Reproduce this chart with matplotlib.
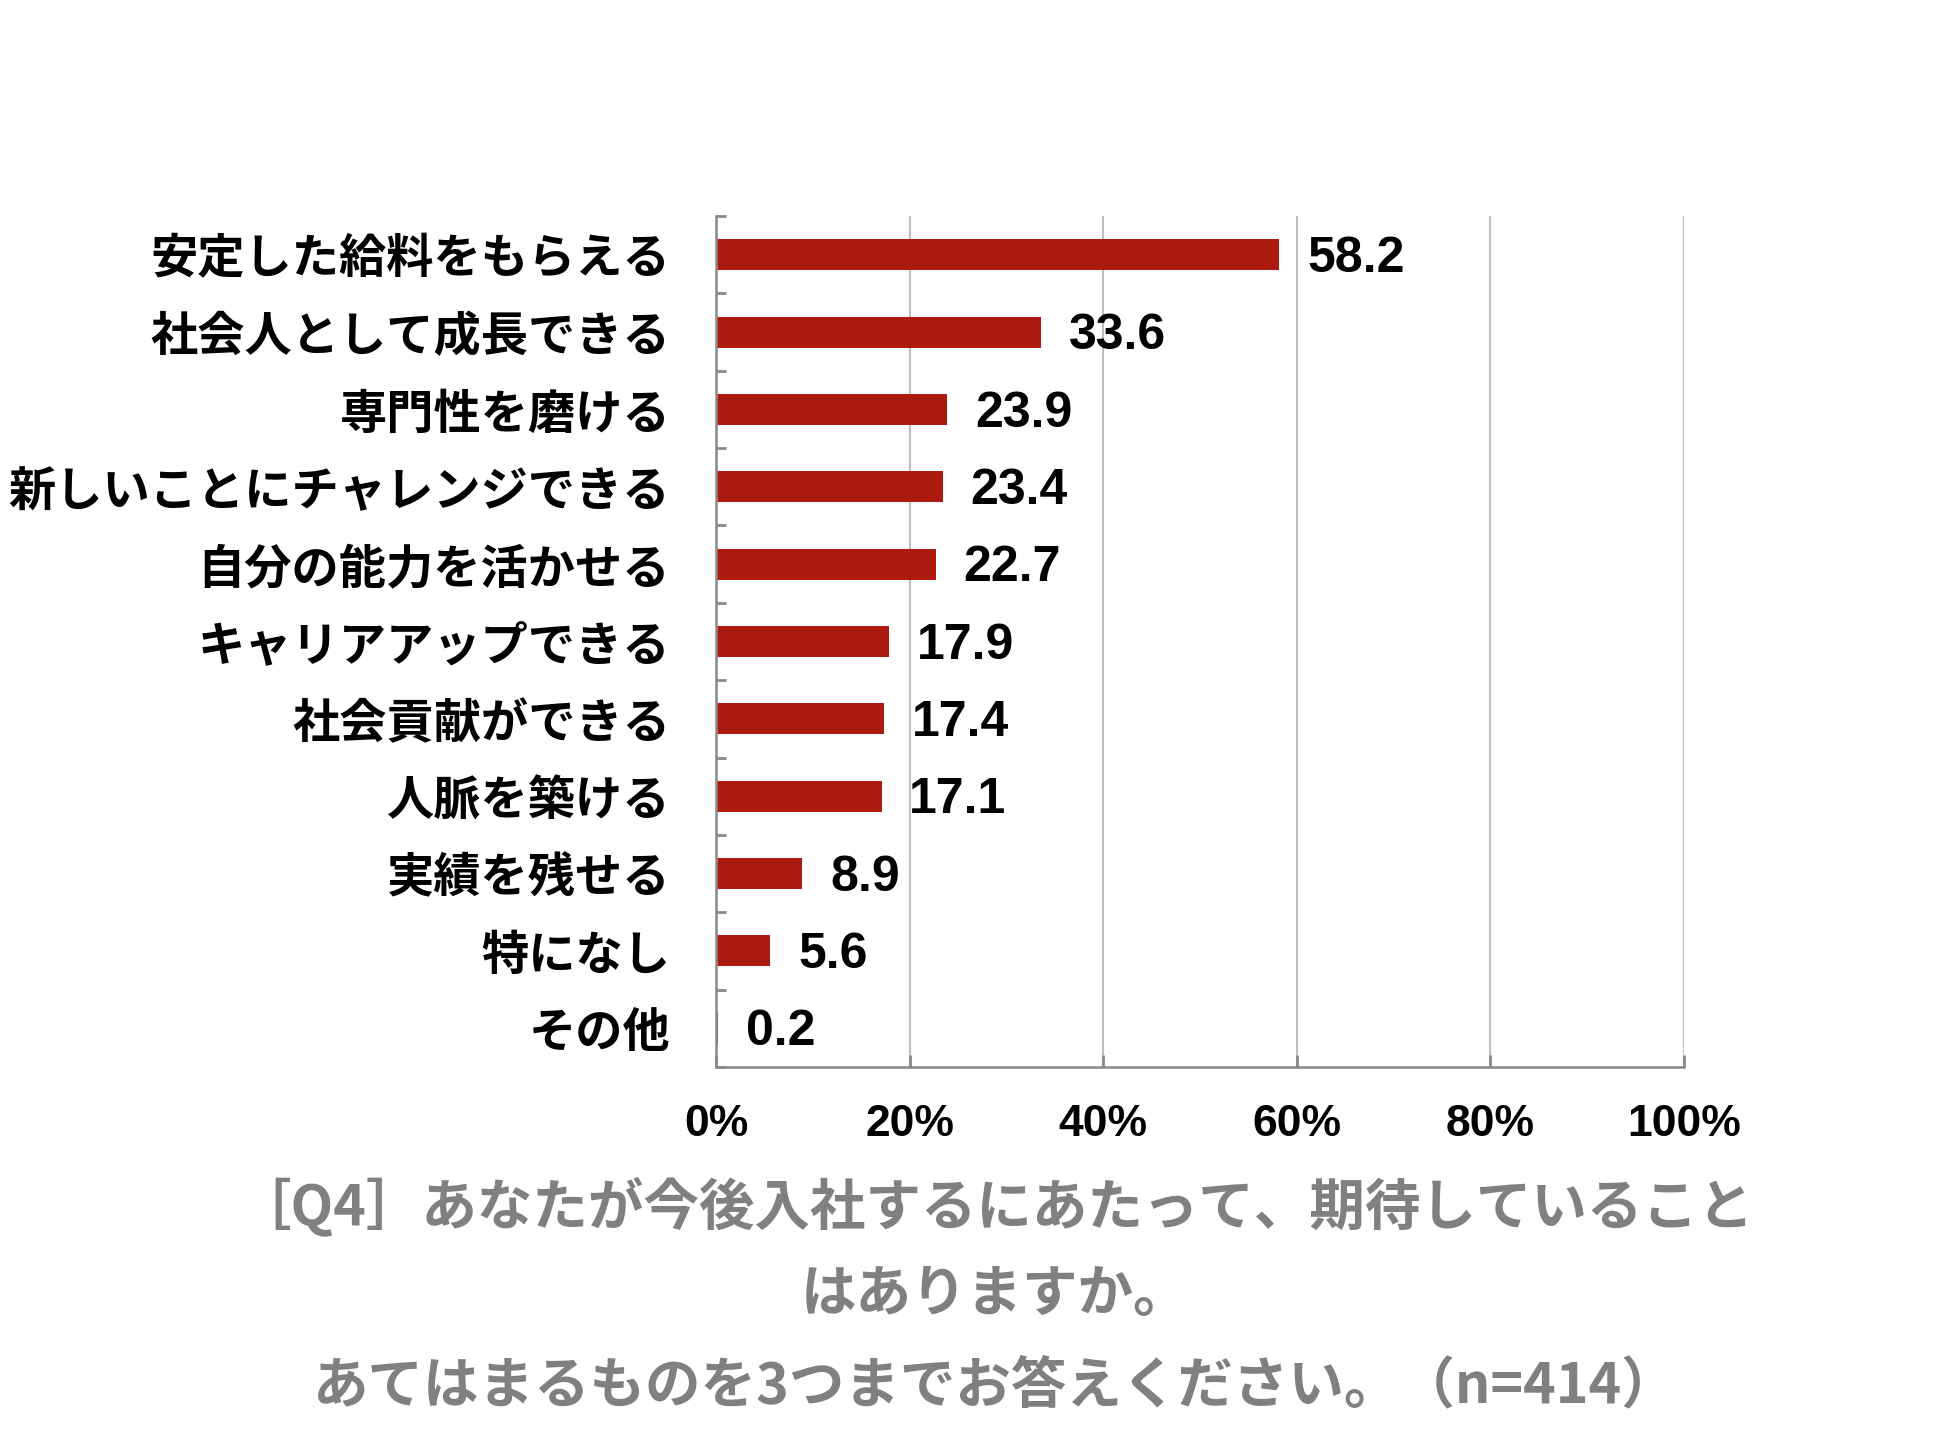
import matplotlib
matplotlib.use("Agg")
import matplotlib.pyplot as plt
from matplotlib.ticker import FixedLocator
import numpy as np

categories = ["安定した給料をもらえる", "社会人として成長できる", "専門性を磨ける",
              "新しいことにチャレンジできる", "自分の能力を活かせる", "キャリアアップできる",
              "社会貢献ができる", "人脈を築ける", "実績を残せる", "特になし", "その他"]
values = [58.2, 33.6, 23.9, 23.4, 22.7, 17.9, 17.4, 17.1, 8.9, 5.6, 0.2]
xticks = [0, 20, 40, 60, 80, 100]
xtick_labels = ["0%", "20%", "40%", "60%", "80%", "100%"]
caption = "［Q4］あなたが今後入社するにあたって、期待していること\nはありますか。\nあてはまるものを3つまでお答えください。（n=414）"

plt.rcParams['font.family'] = ['Noto Sans CJK JP', 'DejaVu Sans']

fig = plt.figure(figsize=(19.39, 14.41), dpi=100)
ax = fig.add_axes([716/1939, 1 - 1067/1441, (1684-716)/1939, (1067-216)/1441])

y = np.arange(len(categories))
ax.barh(y, values, height=0.4, color="#AC1A10", zorder=3)
ax.set_ylim(len(categories) - 0.5, -0.5)
ax.set_xlim(0, 100)

for yi, v in zip(y, values):
    ax.annotate(f"{v:.1f}", xy=(v, yi), xytext=(20, -3), textcoords="offset points",
                va="center", ha="left", fontsize=36, fontweight="bold",
                family="Liberation Sans", color="black", zorder=4)

ax.set_yticks(y)
ax.set_yticklabels(categories, fontsize=34, fontweight="bold", color="black")
ax.tick_params(axis="y", which="major", length=0, pad=33)
ax.yaxis.set_minor_locator(FixedLocator(np.arange(-0.5, len(categories), 1.0)))
ax.tick_params(axis="y", which="minor", direction="in", length=7, width=2, color="#898989")

ax.set_xticks(xticks)
ax.set_xticklabels(xtick_labels, fontsize=32, fontweight="bold", family="Liberation Sans")
ax.tick_params(axis="x", which="major", direction="in", length=9, width=2, color="#898989", pad=27)

ax.grid(axis="x", color="#BFBFBF", linewidth=1.5, zorder=0)
for s in ["top", "right"]:
    ax.spines[s].set_visible(False)
for s in ["left", "bottom"]:
    ax.spines[s].set_color("#898989")
    ax.spines[s].set_linewidth(1.8)
    ax.spines[s].set_zorder(5)

lines = caption.split("\n")
ys = [1206, 1295, 1386]
for ln, yy in zip(lines, ys):
    fig.text(995/1939, 1 - yy/1441, ln, ha="center", va="center", fontsize=40,
             fontweight="bold", color="#808080")

fig.savefig("out.png", dpi=100, facecolor="white")
